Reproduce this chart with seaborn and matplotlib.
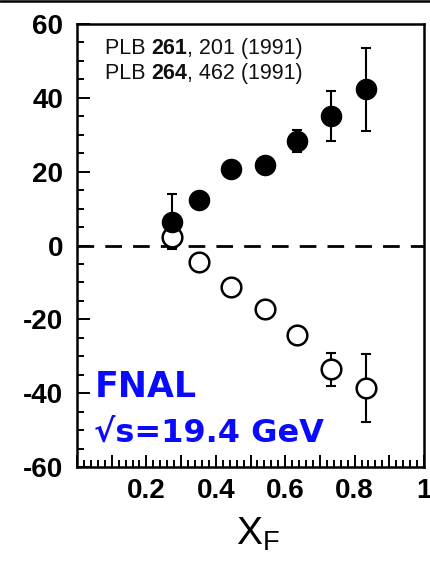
import numpy as np
import pandas as pd
import matplotlib
matplotlib.use("Agg")
import matplotlib.pyplot as plt
from matplotlib.ticker import MultipleLocator, FuncFormatter, FixedLocator
from matplotlib.lines import Line2D
import seaborn as sns

# ---- data ----
xf_filled = [0.274, 0.352, 0.444, 0.542, 0.634, 0.732, 0.833]
an_filled = [6.5, 12.2, 20.8, 21.7, 28.2, 35.0, 42.3]
err_filled = [7.5, 2.0, 2.0, 2.0, 3.0, 6.8, 11.2]

xf_open = [0.274, 0.352, 0.444, 0.542, 0.634, 0.732, 0.833]
an_open = [2.4, -4.6, -11.2, -17.3, -24.2, -33.5, -38.5]
err_open = [3.0, 2.0, 2.0, 2.0, 2.0, 4.5, 9.2]

y_ticks = [-60, -40, -20, 0, 20, 40, 60]
x_tick_labels = {0.2: "0.2", 0.4: "0.4", 0.6: "0.6", 0.8: "0.8", 1.0: "1"}
refs = [("PLB ", "261", ", 201 (1991)"), ("PLB ", "264", ", 462 (1991)")]

df = pd.DataFrame({
    "xf": xf_filled + xf_open,
    "an": an_filled + an_open,
    "err": err_filled + err_open,
    "kind": ["filled"] * len(xf_filled) + ["open"] * len(xf_open),
})

sns.set_theme(style="ticks")
plt.rcParams["font.family"] = ["Liberation Sans", "DejaVu Sans"]
plt.rcParams["mathtext.fontset"] = "custom"
plt.rcParams["mathtext.rm"] = "Liberation Sans"
plt.rcParams["text.color"] = "black"
plt.rcParams["axes.labelcolor"] = "black"
plt.rcParams["xtick.color"] = "black"
plt.rcParams["ytick.color"] = "black"

fig = plt.figure(figsize=(4.31, 5.61), dpi=100)
ax = fig.add_axes([77 / 431, 1 - 467 / 561, (424 - 77) / 431, (467 - 24) / 561])

ax.axhline(0, color="black", lw=2, ls=(0, (6, 4)), zorder=1)

for kind in ["open", "filled"]:
    d = df[df["kind"] == kind]
    ax.errorbar(d["xf"], d["an"], yerr=d["err"], fmt="none", ecolor="black",
                elinewidth=1.5, capsize=3.4, capthick=1.5, zorder=2)

sns.scatterplot(data=df[df["kind"] == "open"], x="xf", y="an", ax=ax,
                marker="o", s=200, facecolor="white", edgecolor="black",
                linewidth=1.8, zorder=3, legend=False)
sns.scatterplot(data=df[df["kind"] == "filled"], x="xf", y="an", ax=ax,
                marker="o", s=210, color="black", edgecolor="black",
                linewidth=1.0, zorder=4, legend=False)

ax.set_xlim(0, 1)
ax.set_ylim(-60, 60)
ax.xaxis.set_major_locator(MultipleLocator(0.1))
ax.xaxis.set_minor_locator(MultipleLocator(0.02))
ax.xaxis.set_major_formatter(FuncFormatter(
    lambda v, p: x_tick_labels.get(round(v, 2), "")))
ax.yaxis.set_major_locator(FixedLocator(y_ticks))
ax.yaxis.set_minor_locator(MultipleLocator(5))
ax.yaxis.set_major_formatter(FuncFormatter(lambda v, p: f"{int(round(v))}"))

ax.tick_params(axis="both", which="both", direction="in", top=False, right=False,
               color="black", labelcolor="black", width=1.4)
ax.tick_params(axis="both", which="major", length=9)
ax.tick_params(axis="both", which="minor", length=5)
ax.tick_params(axis="y", which="major", pad=10, labelsize=20)
ax.tick_params(axis="x", which="major", pad=8, labelsize=20)
for lab in ax.get_yticklabels():
    lab.set_fontweight("bold")
for lab in ax.get_xticklabels():
    lab.set_fontweight("bold")

for sp in ax.spines.values():
    sp.set_visible(True)
    sp.set_linewidth(1.8)
    sp.set_color("black")

ax.set_xlabel(r"$\mathrm{X}_\mathrm{F}$", fontsize=28, labelpad=4, color="black")
ax.xaxis.set_label_coords(0.52, -0.11)
ax.set_ylabel("")

# reference text
fig.canvas.draw()
r = fig.canvas.get_renderer()
for i, (a, b, c) in enumerate(refs):
    yy = 0.933 - i * 0.058
    t1 = ax.text(0.08, yy, a, transform=ax.transAxes, fontsize=15.5,
                 va="baseline", color="#111111")
    bb = t1.get_window_extent(r)
    x2 = ax.transAxes.inverted().transform((bb.x1, bb.y0))[0]
    t2 = ax.text(x2, yy, b, transform=ax.transAxes, fontsize=15.5, va="baseline",
                 fontweight="bold", color="#111111")
    bb2 = t2.get_window_extent(r)
    x3 = ax.transAxes.inverted().transform((bb2.x1, bb2.y0))[0]
    ax.text(x3, yy, c, transform=ax.transAxes, fontsize=15.5, va="baseline",
            color="#111111")

ax.text(0.05, 0.158, "FNAL", transform=ax.transAxes, fontsize=25,
        fontweight="bold", color="#0a0aff", va="baseline",
        family=["DejaVu Sans"])
ax.text(0.05, 0.058, "√s=19.4 GeV", transform=ax.transAxes, fontsize=23,
        fontweight="bold", color="#0a0aff", va="baseline",
        family=["DejaVu Sans"])

fig.add_artist(Line2D([0, 1], [1 - 1.2 / 561, 1 - 1.2 / 561],
                      transform=fig.transFigure, color="black", lw=1.8))

fig.savefig("out.png", dpi=100)
